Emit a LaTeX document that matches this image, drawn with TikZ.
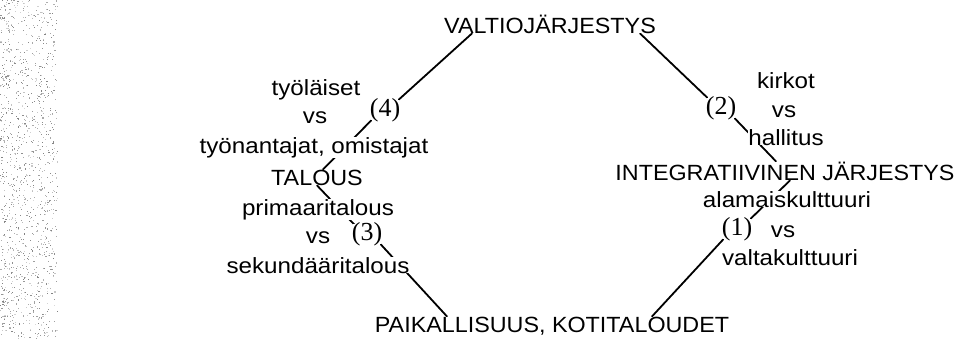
\documentclass[tikz,border=0pt]{standalone}
\usepackage{fontspec}
\setmainfont{Liberation Sans}
\newfontfamily\lowfont{Liberation Sans}[FakeStretch=1.1]
\newfontfamily\capfont{Liberation Sans}[FakeStretch=1.06]
\newfontfamily\numfont{Liberation Serif}
\usetikzlibrary{backgrounds,calc}
\begin{document}
\begin{tikzpicture}[x=1pt,y=-1pt,
  word/.style={anchor=base,inner sep=0pt,fill=white,
    font=\lowfont\fontsize{22}{26}\selectfont},
  head/.style={word,font=\capfont\fontsize{22}{26}\selectfont},
  num/.style={inner sep=-1.5pt,fill=white,
    font=\numfont\fontsize{26}{30}\selectfont},
  link/.style={line width=1.8pt,line cap=round}]
\useasboundingbox (0,0) rectangle (967,338);

% the four corners of the cycle
\node[head] (valtio) at (550,33)  {VALTIOJÄRJESTYS};
\node[head] (talous) at (317,185) {TALOUS};
\node[head] (paik)   at (552,332) {PAIKALLISUUS, KOTITALOUDET};
\node[head] (integ)  at (785,180) {INTEGRATIIVINEN JÄRJESTYS};

% left side: (4) and (3)
\node[word] (tyol) at (316,95)  {työläiset};
\node[word] (vsa)  at (315,123) {vs};
\node[word] (tyon) at (314,153) {työnantajat, omistajat};
\node[word] (prim) at (318,215) {primaaritalous};
\node[word] (vsb)  at (318,243) {vs};
\node[word] (sek)  at (318,273) {sekundääritalous};

% right side: (2) and (1)
\node[word] (kirk) at (786,88)  {kirkot};
\node[word] (vsc)  at (784,117) {vs};
\node[word] (hall) at (786,145) {hallitus};
\node[word] (alam) at (787,207) {alamaiskulttuuri};
\node[word] (vsd)  at (783,237) {vs};
\node[word] (valt) at (790,265) {valtakulttuuri};

% numbered tensions
\node[num] (p4) at (385,110) {(4)};
\node[num] (p3) at (367,234) {(3)};
\node[num] (p2) at (721,108) {(2)};
\node[num] (p1) at (737,229) {(1)};

% scanned margin: a strip of scattered grey specks
\begin{scope}[on background layer]
  \pgfmathsetseed{4711}
  \foreach \k in {1,...,1200} {
    \pgfmathsetmacro{\sx}{57*rnd^1.2}
    \pgfmathsetmacro{\sy}{338*rnd}
    \pgfmathsetmacro{\sg}{15+35*rnd}
    \fill[black!\sg] (\sx,\sy) rectangle ++(1.1,1.1);
  }
\end{scope}

% connectors run behind the text
\begin{scope}[on background layer]
  \draw[link] ([xshift=-78pt]valtio.south) -- (p4.north east);
  \draw[link] (p4.south west) -- ([xshift=6pt]talous.north);
  \draw[link] (talous.south) -- ($(p3.north west)+(4,4)$);
  \draw[link] (p3.south east) -- ([xshift=-105pt]paik.north);
  \draw[link] ([xshift=100pt]paik.north) -- (p1.south west);
  \draw[link] (p1.north east) -- ([xshift=5pt]integ.south);
  \draw[link] (p2.south east) -- ([xshift=-9pt]integ.north);
  \draw[link] ([xshift=90pt]valtio.south) -- (p2.north west);
\end{scope}
\end{tikzpicture}
\end{document}
